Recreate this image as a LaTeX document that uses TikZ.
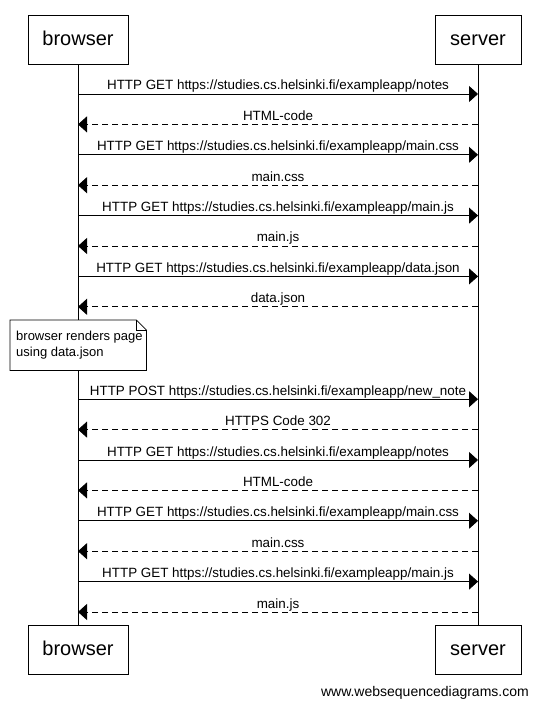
\documentclass[tikz,border=0pt]{standalone}
\usepackage{fontspec}
\setmainfont{Liberation Sans}
\usetikzlibrary{arrows.meta}
\begin{document}
\begin{tikzpicture}[x=1pt,y=-1pt,
  actor/.style={draw,line width=0.8pt,minimum width=#1,minimum height=49pt,inner sep=0pt,text height=15.5pt,text depth=3pt,font=\fontsize{20}{24}\selectfont},
  lbl/.style={anchor=base,inner sep=0pt,font=\fontsize{13.4}{15}\selectfont},
  req/.style={line width=0.8pt,-{Triangle[length=9pt,width=16pt]}},
  resp/.style={line width=0.8pt,dash pattern=on 6pt off 4pt,-{Triangle[length=9pt,width=16pt]}},
  life/.style={line width=0.8pt}]
\useasboundingbox (0,0) rectangle (536,708);
% actors
\node[actor=100pt] (bt) at (78,39.5) {browser};
\node[actor=86pt] (st) at (478,39.5) {server};
\node[actor=100pt] (bb) at (78,649.5) {browser};
\node[actor=86pt] (sb) at (478,649.5) {server};
\draw[life] (bt.south) -- (bb.north);
\draw[life] (st.south) -- (sb.north);
% messages
\def\msgs{94/r/{HTTP GET https://studies.cs.helsinki.fi/exampleapp/notes},
124.4/a/{HTML-code},
154.8/r/{HTTP GET https://studies.cs.helsinki.fi/exampleapp/main.css},
185.2/a/{main.css},
215.6/r/{HTTP GET https://studies.cs.helsinki.fi/exampleapp/main.js},
246/a/{main.js},
276.4/r/{HTTP GET https://studies.cs.helsinki.fi/exampleapp/data.json},
306.8/a/{data.json},
399.2/r/{HTTP POST https://studies.cs.helsinki.fi/exampleapp/new\_note},
429.6/a/{HTTPS Code 302},
460/r/{HTTP GET https://studies.cs.helsinki.fi/exampleapp/notes},
490.4/a/{HTML-code},
520.8/r/{HTTP GET https://studies.cs.helsinki.fi/exampleapp/main.css},
551.2/a/{main.css},
581.6/r/{HTTP GET https://studies.cs.helsinki.fi/exampleapp/main.js},
612/a/{main.js}}
\foreach \yy/\kind/\txt [count=\i] in \msgs {
  \coordinate (b\i) at (bt.south |- 0,\yy);
  \coordinate (s\i) at (st.south |- 0,\yy);
  \if r\kind
    \draw[req] (b\i) -- (s\i) node[lbl,pos=0.5,yshift=4pt] {\txt};
  \else
    \draw[resp] (s\i) -- (b\i) node[lbl,pos=0.5,yshift=4pt] {\txt};
  \fi
}
% note
\node[anchor=north west,inner sep=0pt,minimum width=136pt,minimum height=50pt] (note) at (10,320) {};
\draw[line width=0.8pt,fill=white] (note.north west) -- ([xshift=-10pt]note.north east) -- ([yshift=-10pt]note.north east) -- (note.south east) -- (note.south west) -- cycle;
\draw[line width=0.8pt] ([xshift=-10pt]note.north east) -- ([xshift=-10pt,yshift=-10pt]note.north east) -- ([yshift=-10pt]note.north east);
\node[anchor=west,align=left,inner sep=0pt,font=\fontsize{13}{16}\selectfont] (notetxt) at (16,345) {browser renders page\\using data.json};
% footer
\node[anchor=east,inner sep=0pt,font=\fontsize{14}{16}\selectfont] (footer) at (529,693) {www.websequencediagrams.com};
\end{tikzpicture}
\end{document}
